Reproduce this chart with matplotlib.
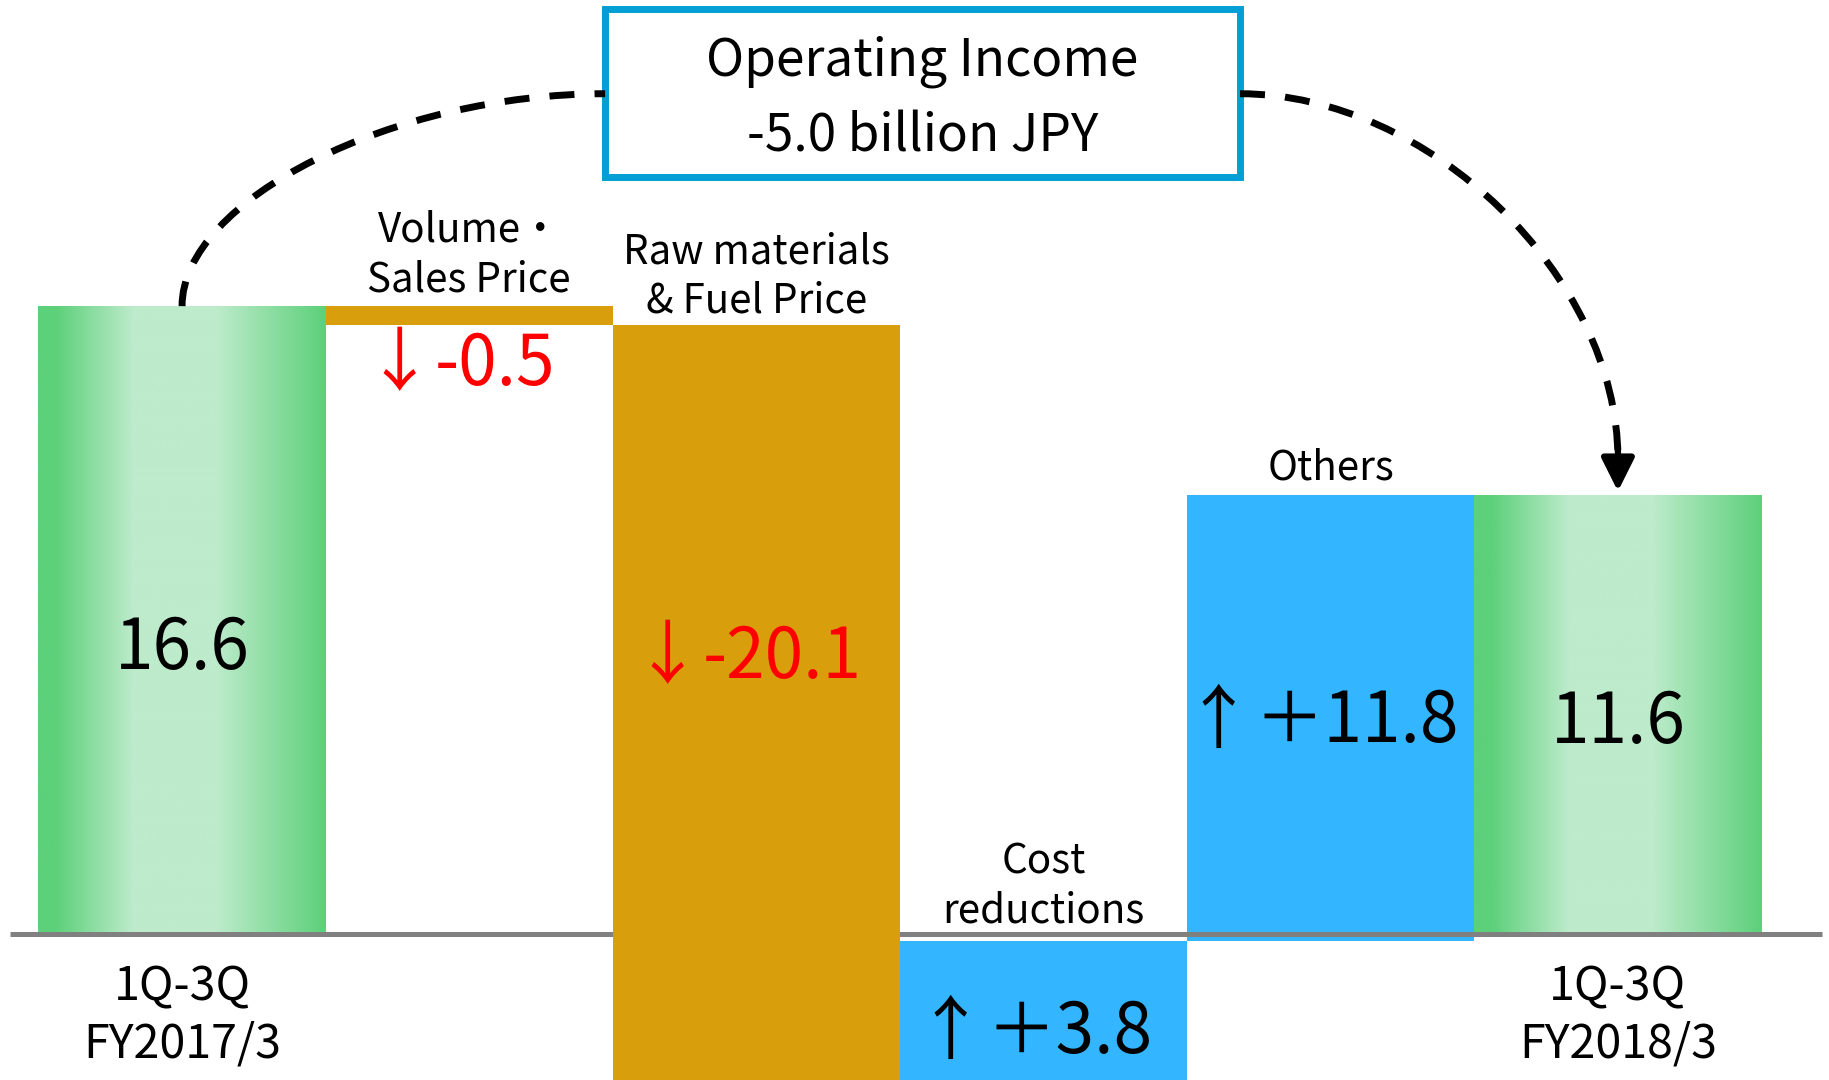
import numpy as np
import matplotlib
matplotlib.use("Agg")
import matplotlib.pyplot as plt
from matplotlib.colors import LinearSegmentedColormap
from matplotlib.patches import Rectangle, PathPatch, FancyArrowPatch
from matplotlib.path import Path

plt.rcParams['font.family'] = ['Noto Sans CJK JP', 'DejaVu Sans']

# chart data
categories = ["1Q-3Q\nFY2017/3", "Volume・\nSales Price", "Raw materials\n& Fuel Price",
              "Cost\nreductions", "Others", "1Q-3Q\nFY2018/3"]
start_value = 16.6
changes = [-0.5, -20.1, 3.8, 11.8]
end_value = 11.6
box_lines = ["Operating Income", "-5.0 billion JPY"]

# colours
GREEN = "#5dd07a"
GREEN_LIGHT = "#bdebcb"
ORANGE = "#d99e0b"
BLUE = "#33b5ff"
FRAME = "#019fd4"
GRAY = "#808080"

fig = plt.figure(figsize=(18.29, 10.80), dpi=100)
ax = fig.add_axes([0, 0, 1, 1])

#horizontal gradient used for the two total bars
green_cmap = LinearSegmentedColormap.from_list(
    "bar_green", [(0, GREEN), (0.06, GREEN), (0.33, GREEN_LIGHT), (0.62, GREEN_LIGHT), (1, GREEN)])
grad = np.linspace(0, 1, 256).reshape(1, -1)

totals = {0: start_value, len(categories) - 1: end_value}
for i, v in totals.items():
    ax.imshow(grad, cmap=green_cmap, extent=(i - 0.5, i + 0.5, 0, v),
              aspect='auto', interpolation='bilinear', zorder=2)

#waterfall steps
running = start_value
for i, c in enumerate(changes, start=1):
    lo, hi = min(running, running + c), max(running, running + c)
    ax.bar(i, hi - lo, bottom=lo, width=1.0, color=ORANGE if c < 0 else BLUE,
           zorder=4 if c < 0 else 2, linewidth=0)
    running += c

#zero line
ax.plot([-0.6, 5.712], [0, 0], color=GRAY, lw=3.6, solid_capstyle='butt', zorder=3)

ax.set_xlim(-0.634, 5.735)
ax.set_ylim(-3.876, 24.70)
ax.axis('off')

#category labels (baseline of last line)
cat_y = [-3.29, 16.98, 16.42, 0.28, 12.0, -3.29]
for i, (lab, y) in enumerate(zip(categories, cat_y)):
    lines = lab.split("\n")
    total_bar = i in totals
    step = 1.53 if total_bar else 1.32
    size = 33.5 if total_bar else 29
    for j, line in enumerate(reversed(lines)):
        ax.text(i, y + j * step, line, ha='center', va='baseline', fontsize=size, zorder=6)

#value labels
value_y = [7.0, 14.51, 6.76, -3.15, 5.07, 5.04]
renderer = fig.canvas.get_renderer()
inv = ax.transData.inverted()
for i, v in totals.items():
    ax.text(i, value_y[i], f"{v}", ha='center', va='baseline', fontsize=50, zorder=6)

for i, c in enumerate(changes, start=1):
    col = 'red' if c < 0 else 'black'
    y = value_y[i]
    # arrow and number as two texts, centred together on the bar
    ta = ax.text(i, y, "↓" if c < 0 else "↑", fontsize=50, color=col,
                 ha='left', va='baseline', zorder=6)
    tn = ax.text(i, y, ("-" if c < 0 else "＋") + f"{abs(c)}", fontsize=50, color=col,
                 ha='left', va='baseline', zorder=6)
    wa = ta.get_window_extent(renderer).width
    wn = tn.get_window_extent(renderer).width
    lb, gap = 0.27 * wa, 1
    ink = wa - lb + gap + wn
    x0 = ax.transData.transform((i, y))[0] - ink / 2 - lb
    ta.set_x(inv.transform((x0, 0))[0])
    tn.set_x(inv.transform((x0 + wa + gap, 0))[0])

#title box
bx0, bx1, by0, by1 = 1.473, 3.684, 20.01, 24.47
ax.add_patch(Rectangle((bx0, by0), bx1 - bx0, by1 - by0, facecolor='white',
                       edgecolor=FRAME, lw=5, zorder=5))
xc = (bx0 + bx1) / 2
ax.text(xc, 22.71, box_lines[0], ha='center', va='baseline', fontsize=37, zorder=6)
ax.text(xc, 20.68, box_lines[1], ha='center', va='baseline', fontsize=37, zorder=6)

#dashed connectors
k = 0.5
ya = 22.22
y_end = 12.55
left = Path([(0, start_value), (0, start_value + k * (ya - start_value)),
             (bx0 - k * bx0, ya), (bx0, ya)],
            [Path.MOVETO, Path.CURVE4, Path.CURVE4, Path.CURVE4])
x_last = len(categories) - 1
right = Path([(bx1, ya), (bx1 + k * (x_last - bx1), ya),
              (x_last, y_end + k * (ya - y_end)), (x_last, y_end)],
             [Path.MOVETO, Path.CURVE4, Path.CURVE4, Path.CURVE4])
for p in (left, right):
    ax.add_patch(PathPatch(p, fill=False, lw=5, color='black',
                           linestyle=(0, (3.6, 2.9)), capstyle='butt', zorder=5))

ax.add_patch(FancyArrowPatch((x_last, 12.9), (x_last, end_value + 0.1),
                             arrowstyle='-|>,head_length=0.5,head_width=0.25',
                             mutation_scale=40, lw=4.5, color='black',
                             shrinkA=0, shrinkB=0, zorder=5))

fig.savefig("out.png", dpi=100)
